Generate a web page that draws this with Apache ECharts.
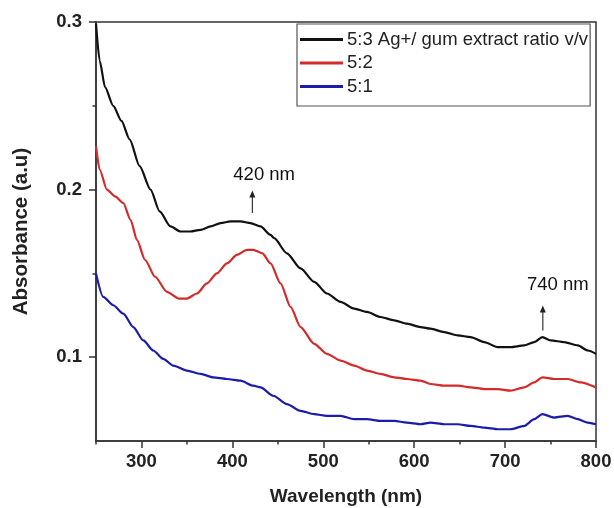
<!DOCTYPE html>
<html>
<head>
<meta charset="utf-8">
<script src="https://cdn.jsdelivr.net/npm/echarts@6/dist/echarts.min.js"></script>
<style>
html,body{margin:0;padding:0;background:#fff;}
#chart{width:614px;height:508px;}
</style>
</head>
<body>
<div id="chart"></div>
<script>
// ---- data ----
const seriesNames = ['5:3 Ag+/ gum extract ratio v/v', '5:2', '5:1'];

const blackWl  = [250,254,260,269,278,287,298,310,320,332,343,354,365,376,387,398,409,420,431,442,446,460,475,490,504,519,534,548,563,578,592,607,618,633,648,662,677,692,706,721,732,741,750,765,780,791,800];
const blackAbs = [0.299,0.277,0.261,0.250,0.241,0.230,0.214,0.200,0.187,0.178,0.175,0.175,0.176,0.178,0.180,0.181,0.181,0.180,0.178,0.173,0.171,0.162,0.153,0.145,0.138,0.133,0.129,0.127,0.124,0.122,0.120,0.118,0.117,0.115,0.113,0.112,0.109,0.106,0.106,0.107,0.109,0.112,0.110,0.109,0.107,0.104,0.102];

const redWl  = [250,254,262,271,280,288,295,304,315,328,341,350,361,372,383,394,405,416,423,433,442,453,464,475,490,504,519,534,548,563,578,592,607,618,633,648,662,677,692,706,721,732,741,754,769,783,800];
const redAbs = [0.226,0.212,0.200,0.196,0.192,0.182,0.170,0.158,0.148,0.139,0.135,0.135,0.138,0.144,0.150,0.156,0.161,0.164,0.164,0.162,0.156,0.144,0.130,0.118,0.108,0.102,0.098,0.095,0.092,0.090,0.088,0.087,0.086,0.084,0.083,0.083,0.082,0.081,0.081,0.080,0.082,0.085,0.088,0.087,0.087,0.085,0.082];

const blueWl  = [250,258,269,280,291,302,313,324,335,350,365,379,394,409,423,431,445,460,475,490,504,519,534,548,563,578,592,607,618,633,648,662,677,692,706,721,732,741,754,769,780,791,800];
const blueAbs = [0.150,0.136,0.131,0.126,0.118,0.110,0.104,0.099,0.095,0.092,0.090,0.088,0.087,0.086,0.083,0.082,0.077,0.072,0.068,0.066,0.065,0.065,0.063,0.063,0.062,0.062,0.061,0.060,0.061,0.060,0.060,0.059,0.058,0.057,0.057,0.059,0.063,0.066,0.064,0.065,0.063,0.061,0.060];

const xMajorTicks = [300,400,500,600,700,800];
const xMinorTicks = [250,350,450,550,650,750];
const yMajorTicks = [0.1,0.2,0.3];
const yMinorTicks = [0.15,0.25];

// annotations (data coordinates)
const annLabels   = ['420 nm', '740 nm'];
const annLabelWl  = [435, 758];
const annLabelAbs = [0.2088, 0.1430];
const annArrowWl  = [422, 741.5];
const annArrowTop = [0.1995, 0.1308];
const annArrowBot = [0.1860, 0.1160];

// ---- styles ----
const colors = ['#111111', '#d42a2a', '#1c1ca8'];
const axisColor = '#333333';
const FONT = '"Liberation Sans", Arial, sans-serif';

function pairs(xs, ys){ return xs.map((x,i)=>[x, ys[i]]); }

const chart = echarts.init(document.getElementById('chart'), null, {renderer:'canvas'});

const baseX = {
  type:'value', min:250, max:800, position:'bottom',
  splitLine:{show:false}
};
const baseY = {
  type:'value', min:0.05, max:0.3, position:'left',
  splitLine:{show:false}
};

function lineSeries(i, xs, ys){
  return {
    name:seriesNames[i], type:'line', data:pairs(xs, ys),
    showSymbol:false, symbol:'none', smooth:0.25, smoothMonotone:'x',
    lineStyle:{color:colors[i], width:2.2}, itemStyle:{color:colors[i]},
    xAxisIndex:0, yAxisIndex:0
  };
}

chart.setOption({
  animation:false,
  backgroundColor:'#ffffff',
  grid:{left:96, right:18, top:22, bottom:67, show:true, borderColor:axisColor, borderWidth:1.5, outerBoundsMode:'none'},
  legend:{
    orient:'vertical', left:297, top:24,
    data:seriesNames,
    icon:'rect', itemWidth:43, itemHeight:3, itemGap:4.5,
    padding:[6,2,10,3],
    borderColor:'#555', borderWidth:1.2,
    textStyle:{fontFamily:FONT, fontSize:18.5, color:'#222', lineHeight:19, padding:[0,0,0,-1]},
    selectedMode:false
  },
  xAxis:[
    Object.assign({}, baseX, {
      name:'Wavelength (nm)', nameLocation:'middle', nameGap:46,
      nameTextStyle:{fontFamily:FONT, fontSize:19, fontWeight:'bold', color:'#222'},
      axisLine:{show:true, lineStyle:{color:axisColor, width:1.5}},
      axisTick:{show:true, inside:false, length:7, customValues:xMajorTicks, lineStyle:{color:axisColor, width:1.5}},
      axisLabel:{show:true, margin:11, customValues:xMajorTicks, fontFamily:FONT, fontSize:18.5, fontWeight:'bold', color:'#222'}
    }),
    Object.assign({}, baseX, {
      axisLine:{show:false},
      axisTick:{show:true, inside:false, length:3.5, customValues:xMinorTicks, lineStyle:{color:axisColor, width:1.5}},
      axisLabel:{show:false}
    })
  ],
  yAxis:[
    Object.assign({}, baseY, {
      name:'Absorbance (a.u)', nameLocation:'middle', nameGap:64,
      nameTextStyle:{fontFamily:FONT, fontSize:20.5, fontWeight:'bold', color:'#222'},
      axisLine:{show:true, lineStyle:{color:axisColor, width:1.5}},
      axisTick:{show:true, inside:false, length:7, customValues:yMajorTicks, lineStyle:{color:axisColor, width:1.5}},
      axisLabel:{show:true, margin:14, customValues:yMajorTicks, fontFamily:FONT, fontSize:18.5, fontWeight:'bold', color:'#222'}
    }),
    Object.assign({}, baseY, {
      axisLine:{show:false},
      axisTick:{show:true, inside:false, length:3.5, customValues:yMinorTicks, lineStyle:{color:axisColor, width:1.5}},
      axisLabel:{show:false}
    })
  ],
  series:[
    lineSeries(0, blackWl, blackAbs),
    lineSeries(1, redWl, redAbs),
    lineSeries(2, blueWl, blueAbs)
  ]
});

// annotations positioned through the chart's own scales
const graphics = [];
annLabels.forEach((t, i) => {
  const p = chart.convertToPixel({gridIndex:0}, [annLabelWl[i], annLabelAbs[i]]);
  const top = chart.convertToPixel({gridIndex:0}, [annArrowWl[i], annArrowTop[i]]);
  const bot = chart.convertToPixel({gridIndex:0}, [annArrowWl[i], annArrowBot[i]]);
  graphics.push({
    type:'text', x:p[0], y:p[1],
    style:{text:t, fill:'#111', font:'18.5px ' + FONT, textAlign:'center', textVerticalAlign:'middle'}
  });
  graphics.push({
    type:'line', shape:{x1:top[0], y1:top[1]+5, x2:bot[0], y2:bot[1]},
    style:{stroke:'#333', lineWidth:1.2}
  });
  graphics.push({
    type:'polygon', shape:{points:[[top[0], top[1]], [top[0]-3, top[1]+7], [top[0]+3, top[1]+7]]},
    style:{fill:'#222'}
  });
});
chart.setOption({graphic:graphics});
</script>
</body>
</html>
